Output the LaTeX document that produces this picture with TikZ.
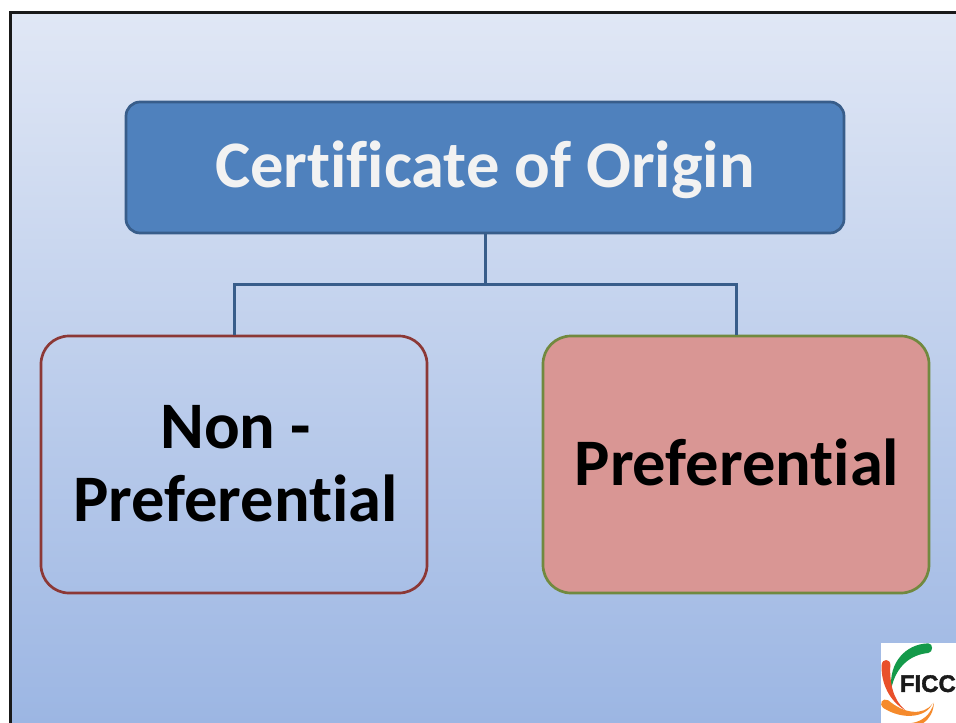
\documentclass[tikz,border=0pt]{standalone}
\usepackage{fontspec}
\setmainfont{Carlito}[Ligatures=CommonOff]
\newfontfamily\logofont{Liberation Sans}[FakeBold=1.5]
\newcommand{\shifted}[2]{\raisebox{#1}[\height][\depth]{#2}}
\definecolor{bgtop}{HTML}{E0E7F5}
\definecolor{bgmid}{HTML}{C8D6EF}
\definecolor{bgbot}{HTML}{9CB6E3}
\definecolor{titlefill}{HTML}{4F81BD}
\definecolor{titleline}{HTML}{385D8A}
\definecolor{nonline}{HTML}{8C3836}
\definecolor{prefline}{HTML}{71893F}
\definecolor{preffill}{HTML}{D99694}
\definecolor{titletext}{HTML}{F2F2F2}
\definecolor{logogreen}{HTML}{149A4A}
\definecolor{logored}{HTML}{E9502B}
\definecolor{logoorange}{HTML}{F58A2C}
\definecolor{logotext}{HTML}{1A1A1A}
\tikzset{
  box/.style={rectangle,draw,line width=2.7pt,align=center,font=\fontsize{66.5}{73}\selectfont\bfseries,inner sep=0pt},
  titlebox/.style={box,fill=titlefill,draw=titleline,rounded corners=14pt,minimum width=718pt,minimum height=131pt,text=titletext},
  nonbox/.style={box,draw=nonline,rounded corners=28pt,minimum width=386pt,minimum height=257pt,text=black},
  prefbox/.style={box,fill=preffill,draw=prefline,rounded corners=28pt,minimum width=386pt,minimum height=257pt,text=black},
  link/.style={draw=titleline,line width=3pt}
}
\begin{document}
\begin{tikzpicture}[x=1pt,y=-1pt]
\useasboundingbox (0,0) rectangle (956,723);
\fill[white] (0,0) rectangle (956,723);
\fill[black!90] (9,11) rectangle (956,723);
\shade[top color=bgtop,middle color=bgmid,bottom color=bgbot] (12,14) rectangle (956,723);
\coordinate (junction) at (485,284);
\node[titlebox] (title) at (485,167.5) {\shifted{-2pt}{Certificate of Origin}};
\node[nonbox] (non) at (234,464.5) {\hspace*{3pt}\shifted{1pt}{Non -}\\\hspace*{3pt}\shifted{1pt}{Preferential}};
\node[prefbox] (pref) at (736,464.5) {\hspace*{2pt}\shifted{2.5pt}{Preferential}};
\draw[link] (title.south) -- (junction);
\draw[link] (non.north) |- (junction) -| (pref.north);
% logo
\begin{scope}[shift={(860,620)},x=.3333pt,y=-.3333pt]
\clip (0,0) rectangle (288,309);
\fill[white] (63,69) rectangle (288,309);
\fill[logogreen] (94,205) .. controls (86,130) and (135,72) .. (205,70) .. controls (220,70) and (220,97) .. (205,99) .. controls (150,104) and (108,140) .. (94,205) -- cycle;
\fill[logored] (135,270) .. controls (90,245) and (62,190) .. (65,135) .. controls (66,115) and (91,115) .. (91,135) .. controls (88,190) and (100,240) .. (135,270) -- cycle;
\fill[logoorange] (218,250) .. controls (200,292) and (130,302) .. (70,264) .. controls (55,250) and (68,232) .. (85,241) .. controls (130,280) and (190,290) .. (218,250) -- cycle;
\fill[logoorange] (222,248) .. controls (212,285) and (185,305) .. (155,309) -- (190,309) .. controls (210,295) and (220,275) .. (222,248) -- cycle;
\node[anchor=west,inner sep=0pt,text=logotext,font=\logofont\fontsize{24}{24}\selectfont\bfseries] (logo) at (119,191) {FICC};
\end{scope}
\end{tikzpicture}
\end{document}
